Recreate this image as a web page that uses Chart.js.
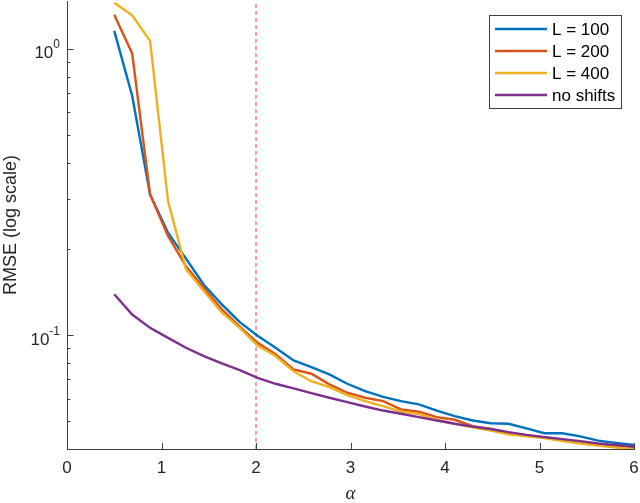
<!DOCTYPE html>
<html>
<head>
<meta charset="utf-8">
<script src="https://cdn.jsdelivr.net/npm/chart.js@4"></script>
<style>
html,body{margin:0;padding:0;background:#fff;}
#wrap{width:640px;height:503px;}
</style>
</head>
<body>
<div id="wrap"><canvas id="myChart" width="640" height="503"></canvas></div>
<script>
// alpha values (x axis)
const alpha = [0.5, 0.690, 0.879, 1.069, 1.259, 1.448, 1.638, 1.828, 2.017, 2.207,
               2.397, 2.586, 2.776, 2.966, 3.155, 3.345, 3.534, 3.724, 3.914, 4.103,
               4.293, 4.483, 4.672, 4.862, 5.052, 5.241, 5.431, 5.621, 5.810, 6.0];

// RMSE values
const rmse_L100 = [1.156, 0.685, 0.310, 0.228, 0.185, 0.150, 0.128, 0.111, 0.0995, 0.0903,
                   0.0816, 0.0773, 0.0729, 0.0676, 0.0637, 0.0608, 0.0588, 0.0573, 0.0545, 0.0521,
                   0.0503, 0.0492, 0.0490, 0.0472, 0.0454, 0.0454, 0.0443, 0.0428, 0.0420, 0.0413];
const rmse_L200 = [1.315, 0.963, 0.310, 0.222, 0.174, 0.146, 0.123, 0.107, 0.094, 0.0857,
                   0.0759, 0.0733, 0.0673, 0.0629, 0.0604, 0.0588, 0.0550, 0.0540, 0.0517, 0.0506,
                   0.0481, 0.0470, 0.0455, 0.0446, 0.0440, 0.0432, 0.0422, 0.0414, 0.0408, 0.0405];
const rmse_L400 = [1.45, 1.31, 1.066, 0.294, 0.170, 0.1426, 0.120, 0.106, 0.092, 0.0845,
                   0.0748, 0.069, 0.0658, 0.0617, 0.0588, 0.0565, 0.054, 0.053, 0.0506, 0.049,
                   0.0476, 0.0464, 0.045, 0.0443, 0.0437, 0.0426, 0.0418, 0.0411, 0.0405, 0.0400];
const rmse_noshift = [0.139, 0.118, 0.106, 0.0978, 0.0903, 0.0845, 0.0796, 0.0755, 0.0709, 0.0676,
                      0.0651, 0.0627, 0.0604, 0.0583, 0.0563, 0.0545, 0.0531, 0.0517, 0.0503, 0.049,
                      0.0479, 0.047, 0.0458, 0.0448, 0.044, 0.0433, 0.0426, 0.0418, 0.0413, 0.0408];

const seriesNames = ['L = 100', 'L = 200', 'L = 400', 'no shifts'];
const seriesColors = ['#0072BD', '#D95319', '#EDB120', '#7E2F8E'];

const thresholdAlpha = 2;
const xTicks = [0, 1, 2, 3, 4, 5, 6];
const yMajorTicks = [0.1, 1];
const yMajorExp = ['-1', '0'];
const yMinorTicks = [0.05, 0.06, 0.07, 0.08, 0.09, 0.2, 0.3, 0.4, 0.5, 0.6, 0.7, 0.8, 0.9];
const yMin = 0.04, yMax = 1.47;

const axisColor = '#404040';
const textColor = '#262626';
const fontFam = '"Liberation Sans", Arial, sans-serif';

function pts(ys){
    return alpha.map((a,i)=>({x:a, y:ys[i]}));
}

const allSeries = [rmse_L100, rmse_L200, rmse_L400, rmse_noshift];
const datasets = allSeries.map((s,i)=>({
    label: seriesNames[i],
    data: pts(s),
    borderColor: seriesColors[i],
    backgroundColor: seriesColors[i],
    borderWidth: 2.4,
    pointRadius: 0,
    tension: 0,
    order: 4 - i
}));
datasets.push({
    label: 'threshold',
    data: [{x:thresholdAlpha, y:yMin}, {x:thresholdAlpha, y:yMax}],
    borderColor: '#ff4a4a',
    backgroundColor: '#ff4a4a',
    borderWidth: 1.1,
    borderDash: [4,3],
    pointRadius: 0,
    order: 10
});

const axisDeco = {
    id: 'axisDeco',
    afterDraw(chart){
        const ctx = chart.ctx, xs = chart.scales.x, ys = chart.scales.y, area = chart.chartArea;
        ctx.save();
        ctx.strokeStyle = axisColor;
        ctx.lineWidth = 1;
        ctx.beginPath();
        xTicks.forEach(v=>{
            const px = Math.round(xs.getPixelForValue(v)) + 0.5;
            ctx.moveTo(px, area.bottom);
            ctx.lineTo(px, area.bottom - 6);
        });
        yMajorTicks.forEach(v=>{
            const py = Math.round(ys.getPixelForValue(v)) + 0.5;
            ctx.moveTo(area.left, py);
            ctx.lineTo(area.left + 6.5, py);
        });
        yMinorTicks.forEach(v=>{
            const py = Math.round(ys.getPixelForValue(v)) + 0.5;
            ctx.moveTo(area.left, py);
            ctx.lineTo(area.left + 3.5, py);
        });
        ctx.stroke();

        // y tick labels 10^n
        ctx.fillStyle = textColor;
        ctx.textAlign = 'left';
        ctx.textBaseline = 'alphabetic';
        yMajorTicks.forEach((v,i)=>{
            const py = ys.getPixelForValue(v);
            const e = yMajorExp[i];
            ctx.font = '12px ' + fontFam;
            const ew = ctx.measureText(e).width;
            ctx.font = '17px ' + fontFam;
            const bw = ctx.measureText('10').width;
            const right = 60;
            ctx.fillText('10', right - ew - bw, py + 9.5);
            ctx.font = '12px ' + fontFam;
            ctx.fillText(e, right - ew, py - 0.5);
        });

        // legend box
        const lx = 489.5, ly = 15.5, lw = 132, lh = 93;
        ctx.fillStyle = '#fff';
        ctx.fillRect(lx, ly, lw, lh);
        ctx.strokeStyle = axisColor;
        ctx.lineWidth = 1;
        ctx.strokeRect(lx, ly, lw, lh);
        const rows = [29, 51, 73, 95];
        ctx.font = '17px ' + fontFam;
        ctx.textBaseline = 'middle';
        seriesNames.forEach((n,i)=>{
            ctx.strokeStyle = seriesColors[i];
            ctx.lineWidth = 2.4;
            ctx.beginPath();
            ctx.moveTo(495, rows[i]);
            ctx.lineTo(547, rows[i]);
            ctx.stroke();
            ctx.fillStyle = '#000';
            ctx.fillText(n, 552, rows[i] + 1);
        });
        ctx.restore();
    }
};

const ctx = document.querySelector('#myChart').getContext('2d');
const myChart = new Chart(ctx, {
    type: 'line',
    data: { datasets: datasets },
    options: {
        responsive: false,
        animation: false,
        devicePixelRatio: 1,
        layout: { padding: { top: 1, right: 6, left: 0, bottom: 0 } },
        plugins: {
            legend: { display: false },
            tooltip: { enabled: false }
        },
        scales: {
            x: {
                type: 'linear',
                min: 0,
                max: 6,
                ticks: { stepSize: 1, font: { family: fontFam, size: 17 }, color: textColor, padding: 9, maxRotation: 0 },
                grid: { display: false, drawTicks: false },
                border: { display: true, color: axisColor, width: 1 },
                title: { display: true, text: 'α', color: textColor, font: { family: '"Liberation Serif", serif', size: 19, style: 'italic', lineHeight: 1 }, padding: { top: 0, bottom: 0 } },
                afterFit(s){ s.height = 54; s.paddingLeft = 0; s.paddingRight = 0; }
            },
            y: {
                type: 'logarithmic',
                min: yMin,
                max: yMax,
                ticks: { display: false },
                grid: { display: false, drawTicks: false },
                border: { display: true, color: axisColor, width: 1 },
                title: { display: true, text: 'RMSE (log scale)', color: textColor, font: { family: fontFam, size: 18 }, padding: { top: 0, bottom: 0 } },
                afterFit(s){ s.width = 67; s.paddingTop = 0; s.paddingBottom = 0; }
            }
        }
    },
    plugins: [axisDeco]
});
</script>
</body>
</html>
